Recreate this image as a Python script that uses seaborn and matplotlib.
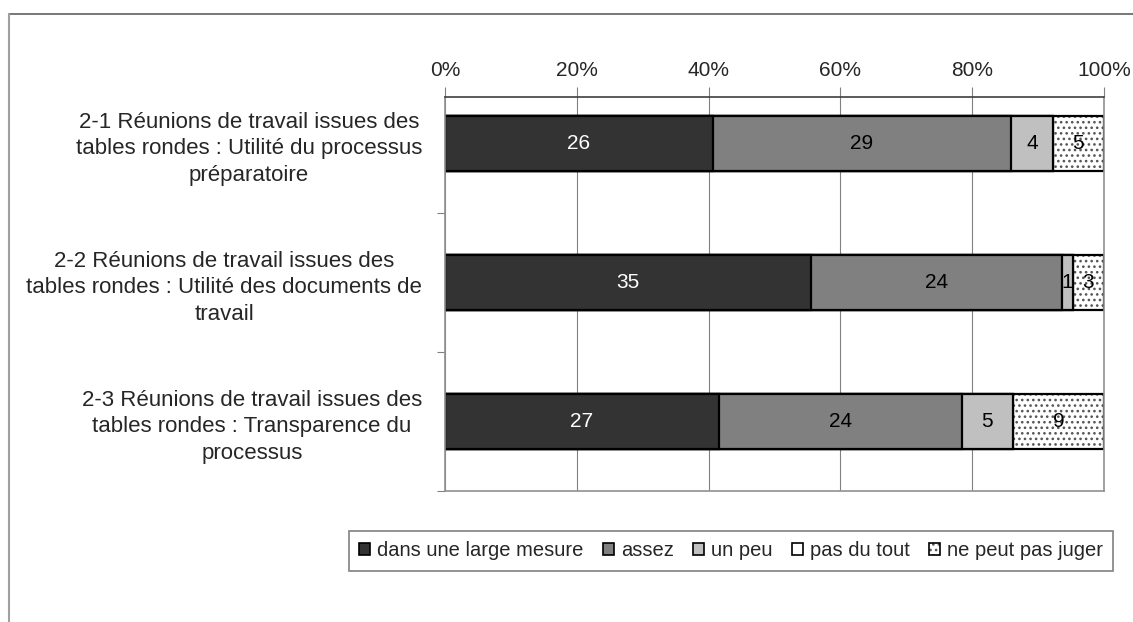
import seaborn as sns
import pandas as pd
import numpy as np
import matplotlib.pyplot as plt
from matplotlib.patches import Patch
from matplotlib.lines import Line2D
from matplotlib.colors import to_rgba

questions = [
    "2-1 Réunions de travail issues des\ntables rondes : Utilité du processus\npréparatoire",
    "2-2 Réunions de travail issues des\ntables rondes : Utilité des documents de\ntravail",
    "2-3 Réunions de travail issues des\ntables rondes : Transparence du\nprocessus",
]
answers = ["dans une large mesure", "assez", "un peu", "pas du tout", "ne peut pas juger"]
large = [26, 35, 27]
assez = [29, 24, 24]
un_peu = [4, 1, 5]
pas_du_tout = [0, 0, 0]
ne_peut = [5, 3, 9]
colors = ["#333333", "#808080", "#c0c0c0", "#ffffff", "#ffffff"]
text_colors = ["white", "black", "black", "black", "black"]

counts = np.array([large, assez, un_peu, pas_du_tout, ne_peut], dtype=float)
pct = counts / counts.sum(axis=0) * 100
cum = pct.cumsum(axis=0)

sns.set_style("white")
plt.rcParams['font.family'] = ['Liberation Sans', 'DejaVu Sans']
plt.rcParams['hatch.linewidth'] = 1.1

fig = plt.figure(figsize=(11.33, 6.22), dpi=100)
ax = fig.add_axes([445 / 1133, 1 - 491 / 622, 659 / 1133, 394 / 622])

# draw cumulative bars back to front so each segment shows
for i in range(len(answers) - 1, -1, -1):
    df = pd.DataFrame({'q': questions, 'v': cum[i]})
    sns.barplot(data=df, x='v', y='q', orient='h', color=colors[i],
                saturation=1, width=0.4, edgecolor='black', linewidth=1.6, ax=ax)
    if i == 4:
        for p in ax.patches:
            p.set_hatch('...')
            p._hatch_color = to_rgba('#555555')

for i in range(len(answers)):
    for j in range(len(questions)):
        if counts[i, j] > 0:
            center = cum[i, j] - pct[i, j] / 2
            ax.text(center, j, f"{int(counts[i, j])}", ha='center', va='center',
                    fontsize=15, color=text_colors[i])

ax.set_xlim(0, 100)
ax.set_ylim(2.5, -0.335)
ax.set_xticks(range(0, 101, 20))
ax.set_xticklabels([f"{t}%" for t in range(0, 101, 20)], fontsize=15)
ax.xaxis.tick_top()
ax.tick_params(axis='x', top=True, length=7, width=0.8, color='#808080', pad=5)
ax.set_yticks([0, 1, 2])
ax.set_yticklabels(questions, fontsize=16, multialignment='center', linespacing=1.35)
ax.tick_params(axis='y', left=False, pad=13)
ax.set_yticks([0.5, 1.5, 2.5], minor=True)
ax.tick_params(axis='y', which='minor', left=True, length=6, width=0.8, color='#808080')
ax.set_xlabel('')
ax.set_ylabel('')
ax.grid(axis='x', color='#808080', linewidth=0.8)
ax.set_axisbelow(True)
for s in ['left', 'right', 'bottom']:
    ax.spines[s].set_color('#909090')
    ax.spines[s].set_linewidth(1.2)
ax.spines['top'].set_color('#404040')
ax.spines['top'].set_linewidth(1.2)

handles = []
for i in range(len(answers)):
    h = Patch(facecolor=colors[i], edgecolor='black', linewidth=1.2,
              hatch='...' if i == 4 else None, label=answers[i])
    if i == 4:
        h._hatch_color = to_rgba('#555555')
    handles.append(h)
leg = fig.legend(handles=handles, loc='center', bbox_to_anchor=(731 / 1133, 1 - 551 / 622),
                 ncol=5, fontsize=14.5, frameon=True, fancybox=False, edgecolor='#606060',
                 handlelength=0.55, handleheight=0.55, handletextpad=0.35, columnspacing=0.95,
                 borderpad=0.5)
leg.get_frame().set_linewidth(1.2)

# outer chart frame (cropped)
fig.add_artist(Line2D([9 / 1133, 1], [1 - 14 / 622] * 2, color='#606060', linewidth=1.2,
                      transform=fig.transFigure))
fig.add_artist(Line2D([9 / 1133] * 2, [0, 1 - 14 / 622], color='#a0a0a0', linewidth=1.5,
                      transform=fig.transFigure))

plt.savefig('out.png', dpi=100)
